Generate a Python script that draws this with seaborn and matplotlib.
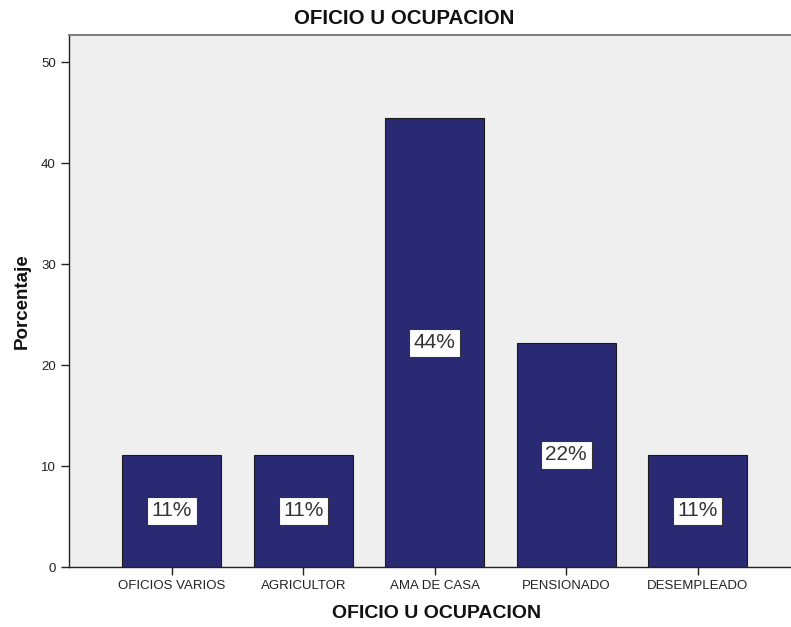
import matplotlib
matplotlib.use("Agg")
import matplotlib.pyplot as plt
import seaborn as sns
import pandas as pd

categorias = ["OFICIOS VARIOS", "AGRICULTOR", "AMA DE CASA", "PENSIONADO", "DESEMPLEADO"]
porcentajes = [11.11, 11.11, 44.44, 22.22, 11.11]
etiquetas = ["11%", "11%", "44%", "22%", "11%"]
yticks = [0, 10, 20, 30, 40, 50]

sns.set_style("ticks")
plt.rcParams['font.family'] = ['Liberation Sans', 'DejaVu Sans']

df = pd.DataFrame({"cat": categorias, "pct": porcentajes})

fig = plt.figure(figsize=(7.91, 6.27), dpi=100)
ax = fig.add_axes([69/791, 1-567/627, (791-69)/791, (567-35)/627])
ax.set_facecolor("#EFEFEF")

sns.barplot(data=df, x="cat", y="pct", color="#292A73", saturation=1,
            width=0.753, edgecolor="#1a1a1a", linewidth=0.8, ax=ax)

for i, (v, t) in enumerate(zip(porcentajes, etiquetas)):
    ax.text(i, v/2, t, ha="center", va="center", fontsize=15, color="#333333",
            bbox=dict(boxstyle="square,pad=0.22", fc="white", ec="#333333", lw=0.8))

ax.set_xlim(-0.783, 4.71)
ax.set_ylim(0, 52.7)
ax.set_yticks(yticks)
ax.tick_params(axis="both", length=6, width=1, color="#222222", direction="out",
               labelcolor="#222222")
for lab in ax.get_xticklabels() + ax.get_yticklabels():
    lab.set_fontsize(9.5)
ax.set_xlabel("")
ax.set_ylabel("")
ax.spines["right"].set_visible(False)
ax.spines["top"].set_visible(True)
ax.spines["top"].set_color("#808080")
ax.spines["top"].set_linewidth(1.5)
for s in ["left", "bottom"]:
    ax.spines[s].set_color("#222222")
    ax.spines[s].set_linewidth(1)

fig.text(404/791, 1-18/627, "OFICIO U OCUPACION", ha="center", va="center",
         fontsize=14.8, fontweight="bold", color="#111111")
fig.text(437/791, 1-614/627, "OFICIO U OCUPACION", ha="center", va="center",
         fontsize=14, fontweight="bold", color="#111111")
fig.text(22/791, 1-301/627, "Porcentaje", ha="center", va="center",
         fontsize=13.5, fontweight="bold", rotation=90, color="#111111")

fig.savefig("out.png", dpi=100, facecolor="white")
